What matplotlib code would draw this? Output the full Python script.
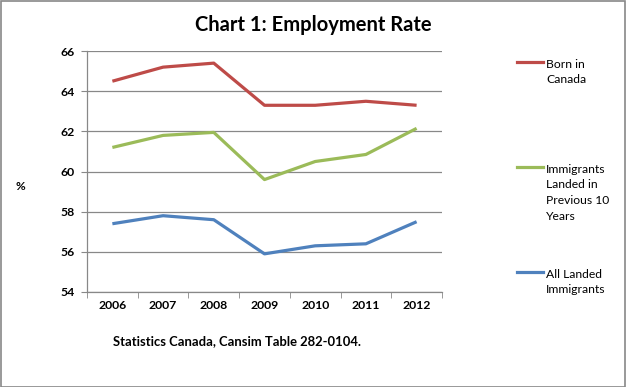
import matplotlib.pyplot as plt
from matplotlib.lines import Line2D
import numpy as np

plt.rcParams['font.family'] = ['Lato', 'DejaVu Sans']

years = ["2006", "2007", "2008", "2009", "2010", "2011", "2012"]
born_canada = [64.5, 65.2, 65.4, 63.3, 63.3, 63.5, 63.3]
recent_immigrants = [61.2, 61.8, 61.95, 59.6, 60.5, 60.85, 62.15]
all_immigrants = [57.4, 57.8, 57.6, 55.9, 56.3, 56.4, 57.5]

series = [
    ("Born in\nCanada", born_canada, "#BE4B48"),
    ("Immigrants\nLanded in\nPrevious 10\nYears", recent_immigrants, "#9BBB59"),
    ("All Landed\nImmigrants", all_immigrants, "#4F81BD"),
]

fig = plt.figure(figsize=(6.26, 3.87), dpi=100)
ax = fig.add_axes([0.139, 0.2455, 0.567, 0.6225])

x = np.arange(len(years))
for name, vals, col in series:
    ax.plot(x, vals, color=col, lw=2.3, solid_capstyle='butt')

ax.set_xlim(-0.5, len(years) - 0.5)
ax.set_ylim(54, 66)
ax.set_yticks(np.arange(54, 67, 2))
ax.set_xticks(x)
ax.set_xticklabels(years, fontweight='bold', fontsize=8.8)
ax.set_xticks(np.arange(-0.5, len(years)), minor=True)
ax.tick_params(axis='x', which='major', length=0, pad=6)
ax.tick_params(axis='x', which='minor', length=4, color='#888888')
ax.tick_params(axis='y', length=4, color='#888888', labelsize=8.8, pad=5)
for lab in ax.get_yticklabels():
    lab.set_fontweight('bold')
ax.yaxis.grid(True, color='#888888', lw=0.9)
ax.set_axisbelow(True)
for s in ['top', 'right']:
    ax.spines[s].set_visible(False)
for s in ['left', 'bottom']:
    ax.spines[s].set_color('#888888')
    ax.spines[s].set_linewidth(0.9)

fig.text(0.5, 0.935, "Chart 1: Employment Rate", ha='center', va='center',
         fontsize=14.5, fontweight='bold')
fig.text(0.032, 0.517, "%", ha='center', va='center', fontsize=8.5, fontweight='bold')
fig.text(0.18, 0.118, "Statistics Canada, Cansim Table 282-0104.", ha='left',
         va='center', fontsize=9.4, fontweight='bold')

# legend, drawn by hand to follow the original layout
leg_y = [62, 167, 272]
for (name, vals, col), yp in zip(series, leg_y):
    yf = 1 - yp / 387
    fig.add_artist(Line2D([517 / 626, 543 / 626], [yf, yf], color=col, lw=2.3,
                          transform=fig.transFigure))
    fig.text(546 / 626, yf + 0.009, name, ha='left', va='top', fontsize=8.7,
             linespacing=1.55)

fig.add_artist(plt.Rectangle((0.001, 0.001), 0.997, 0.997, fill=False,
                             edgecolor='#888888', lw=1.2, transform=fig.transFigure))

fig.savefig("out.png", dpi=100)
